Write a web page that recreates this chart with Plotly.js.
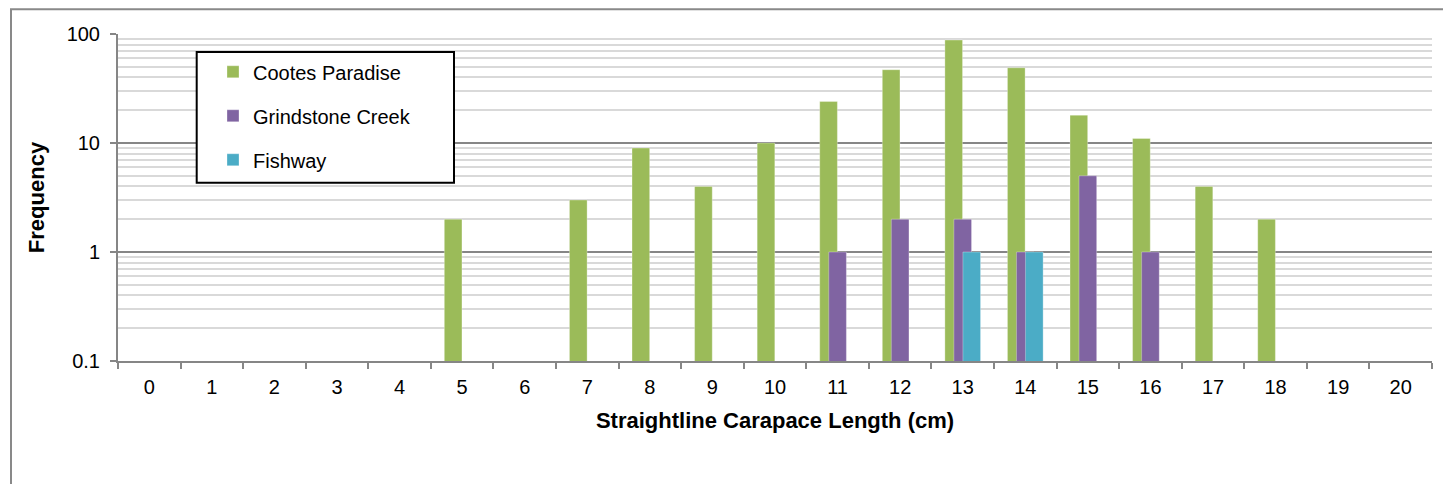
<!DOCTYPE html>
<html>
<head>
<meta charset="utf-8">
<script src="https://cdn.plot.ly/plotly-3.0.1.min.js"></script>
<style>html,body{margin:0;padding:0;background:#fff;}#chart{width:1443px;height:484px;}</style>
</head>
<body>
<div id="chart"></div>
<script>
// Data
const lengthsCm = [0,1,2,3,4,5,6,7,8,9,10,11,12,13,14,15,16,17,18,19,20];
const tickLabels = ["0","1","2","3","4","5","6","7","8","9","10","11","12","13","14","15","16","17","18","19","20"];
const cootesParadise = [null,null,null,null,null,2,null,3,9,4,10,24,47,88,49,18,11,4,2,null,null];
const grindstoneCreek = [null,null,null,null,null,null,null,null,null,null,null,1,2,2,1,5,1,null,null,null,null];
const fishway = [null,null,null,null,null,null,null,null,null,null,null,null,null,1,1,null,null,null,null,null,null];
const seriesNames = ["Cootes Paradise","Grindstone Creek","Fishway"];
const seriesColors = ["#9BBB59","#8064A2","#4BACC6"];

const barW = 0.282;
const step = 0.144;
const seriesValues = [cootesParadise, grindstoneCreek, fishway];
const traces = seriesValues.map((vals, i) => ({
  type: 'bar',
  name: seriesNames[i],
  x: lengthsCm,
  y: vals,
  width: barW,
  offset: (i - 1) * step - barW / 2,
  legendgroup: 'g' + i,
  marker: {color: seriesColors[i], line: {width: 0.6, color: 'rgba(255,255,255,0.5)'}},
  hoverinfo: 'x+y+name'
}));

const L = 118, R = 11, T = 33.7, B = 123;
const W = 1443, H = 484;
const pw = W - L - R, ph = H - T - B;
const px = v => (v - L) / pw;
const py = v => (H - B - v) / ph;

const layout = {
  width: W, height: H,
  margin: {l: L, r: R, t: T, b: B, pad: 0},
  paper_bgcolor: '#ffffff',
  plot_bgcolor: '#ffffff',
  barmode: 'overlay',
  font: {family: 'Liberation Sans, Arial, sans-serif', color: '#000', size: 20},
  showlegend: true,
  legend: {
    x: px(213), xanchor: 'left', y: py(52), yanchor: 'top',
    bgcolor: 'rgba(0,0,0,0)', borderwidth: 0,
    traceorder: 'grouped', tracegroupgap: 15,
    font: {size: 20, family: 'Liberation Sans, Arial, sans-serif'}
  },
  xaxis: {
    range: [-0.5, 20.5],
    tickmode: 'array', tickvals: lengthsCm, ticktext: tickLabels,
    ticks: '', showgrid: false, zeroline: false,
    showline: true, linecolor: '#868686', linewidth: 2,
    ticklabelstandoff: 7,
    tickfont: {size: 20},
    minor: {tick0: -0.5, dtick: 1, ticks: 'outside', ticklen: 6, tickcolor: '#868686', tickwidth: 2, showgrid: false},
    title: {text: '<b>Straightline Carapace Length (cm)</b>', font: {size: 22}, standoff: 16},
    automargin: false, fixedrange: true
  },
  yaxis: {
    type: 'log', range: [-1, 2],
    tickmode: 'array', tickvals: [0.1, 1, 10, 100], ticktext: ['0.1','1','10','100'],
    ticks: 'outside', ticklen: 6, tickcolor: '#868686', tickwidth: 2,
    showgrid: true, gridcolor: '#868686', gridwidth: 2,
    showline: true, linecolor: '#868686', linewidth: 2,
    zeroline: false,
    ticklabelstandoff: 6,
    tickfont: {size: 20},
    minor: {tickvals: [0.2,0.3,0.4,0.5,0.6,0.7,0.8,0.9,2,3,4,5,6,7,8,9,20,30,40,50,60,70,80,90], showgrid: true, gridcolor: '#D9D9D9', gridwidth: 2, ticks: ''},
    title: {text: '<b>Frequency</b>', font: {size: 22}, standoff: 16},
    automargin: false, fixedrange: true
  },
  shapes: [
    {type: 'rect', xref: 'paper', yref: 'paper', x0: px(11), x1: px(1450), y0: py(495), y1: py(9),
     line: {color: '#898989', width: 2}, fillcolor: 'rgba(0,0,0,0)', layer: 'above'},
    {type: 'rect', xref: 'paper', yref: 'paper', x0: px(196.7), x1: px(454), y0: py(182.7), y1: py(51.7),
     line: {color: '#000000', width: 2}, fillcolor: '#ffffff', layer: 'above'}
  ]
};

Plotly.newPlot('chart', traces, layout, {displayModeBar: false, staticPlot: true});
</script>
</body>
</html>
